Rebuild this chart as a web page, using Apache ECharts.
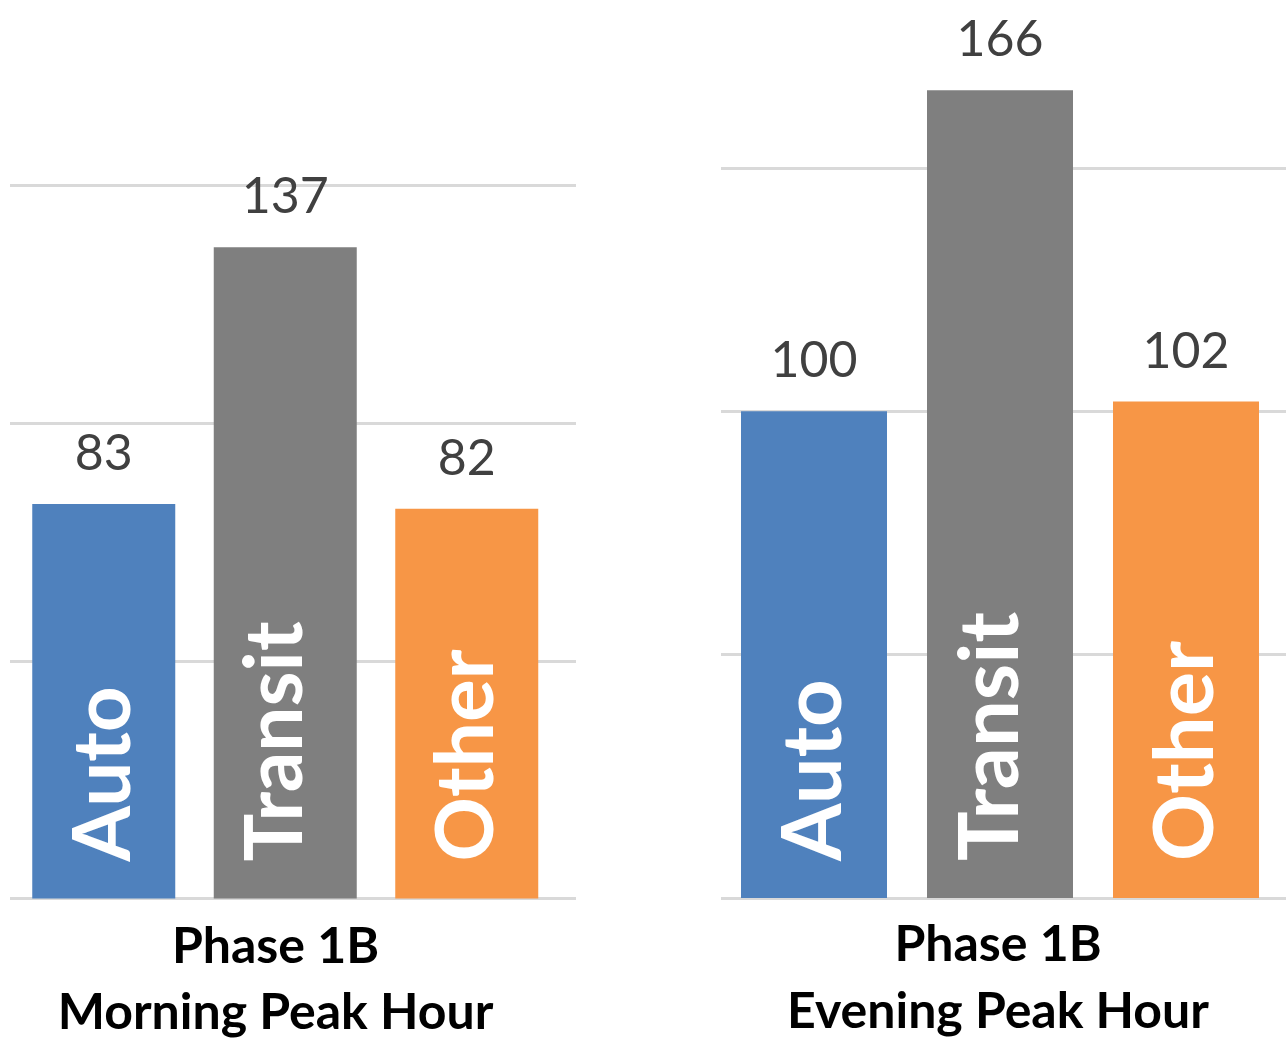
<!DOCTYPE html>
<html><head><meta charset="utf-8">
<script src="https://cdn.jsdelivr.net/npm/echarts@6/dist/echarts.min.js"></script>
<style>html,body{margin:0;padding:0;background:#fff}#c{width:1286px;height:1038px}</style>
</head><body><div id="c"></div>
<script>
// ---- data ----
const categories = ['Auto', 'Transit', 'Other'];
const morningValues = [83, 137, 82];
const eveningValues = [100, 166, 102];
const panelLine1 = ['Phase 1B', 'Phase 1B'];
const panelLine2 = ['Morning Peak Hour', 'Evening Peak Hour'];
const yMin = 0, yMax = 150, yStep = 50;

// ---- styles ----
const barColors = ['#4F81BD', '#7F7F7F', '#F79646'];
const FONT = 'Lato, "Open Sans", sans-serif';
const gridColor = '#D9D9D9';

const chart = echarts.init(document.getElementById('c'), null, {renderer: 'canvas'});

const grids = [
  {left: 10, width: 566, top: 185.5, bottom: 139.5, outerBoundsMode: 'none'},   // left gridlines
  {left: 13, width: 544.5, top: 185.5, bottom: 139.5, outerBoundsMode: 'none'}, // left bars
  {left: 721, width: 565, top: 168, bottom: 140, outerBoundsMode: 'none'},      // right gridlines
  {left: 721, width: 558, top: 168, bottom: 140, outerBoundsMode: 'none'}       // right bars
];

const xAxes = grids.map((g, i) => (i % 2 === 0)
  ? {type: 'value', gridIndex: i, min: 0, max: 1, show: false}
  : {type: 'category', gridIndex: i, data: categories, show: false});

const yAxes = grids.map((g, i) => ({
  type: 'value', gridIndex: i, min: yMin, max: yMax, interval: yStep,
  axisLabel: {show: false}, axisTick: {show: false}, axisLine: {show: false},
  splitLine: {show: i % 2 === 0, lineStyle: {color: gridColor, width: 3}}
}));

function panelSeries(values, gi, bw, fontSize) {
  return [
    {
      type: 'bar', xAxisIndex: gi, yAxisIndex: gi, barWidth: bw, barGap: '-100%', clip: false,
      data: values.map((v, i) => ({value: v, itemStyle: {color: barColors[i]}})),
      label: {show: true, position: 'top', distance: 25, color: '#404040',
        fontFamily: FONT, fontSize: 50, lineHeight: 50},
      animation: false, z: 2
    },
    {
      type: 'bar', xAxisIndex: gi, yAxisIndex: gi, barWidth: bw, barGap: '-100%', clip: false,
      data: values.map((v, i) => ({value: v,
        label: i === 1 ? {offset: [0, -9]} : {}})),
      itemStyle: {color: 'rgba(0,0,0,0)'},
      label: {show: true, position: 'insideBottom', rotate: 90, align: 'left',
        verticalAlign: 'middle', distance: 37, formatter: '{b}', color: '#fff',
        fontFamily: FONT, fontWeight: 'bold', fontSize: fontSize},
      animation: false, z: 3
    }
  ];
}

const titleStyle = {fill: '#000', font: 'bold 50px ' + FONT, textAlign: 'center', textVerticalAlign: 'middle'};

chart.setOption({
  animation: false,
  grid: grids,
  xAxis: xAxes,
  yAxis: yAxes,
  series: [
    {type: 'line', xAxisIndex: 0, yAxisIndex: 0, data: [], silent: true},
    {type: 'line', xAxisIndex: 2, yAxisIndex: 2, data: [], silent: true},
    ...panelSeries(morningValues, 1, 143, 80),
    ...panelSeries(eveningValues, 3, 146, 83)
  ],
  graphic: [
    {type: 'text', x: 275.5, y: 947, style: Object.assign({text: panelLine1[0]}, titleStyle)},
    {type: 'text', x: 275.5, y: 1013, style: Object.assign({text: panelLine2[0]}, titleStyle)},
    {type: 'text', x: 998, y: 945, style: Object.assign({text: panelLine1[1]}, titleStyle)},
    {type: 'text', x: 998, y: 1012, style: Object.assign({text: panelLine2[1]}, titleStyle)}
  ]
});
</script></body></html>
